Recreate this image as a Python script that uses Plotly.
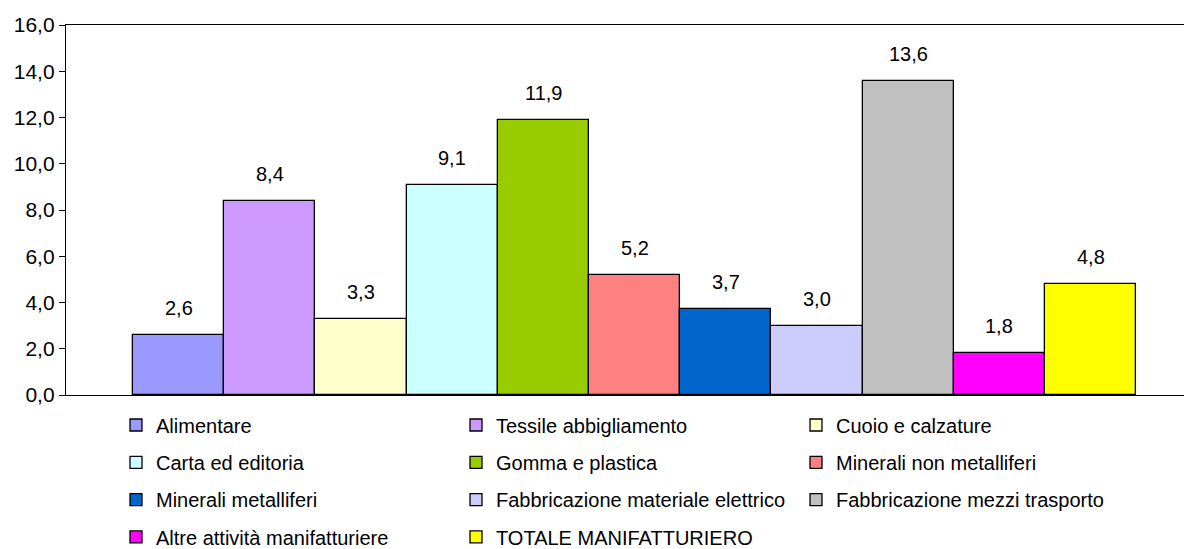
import plotly.graph_objects as go

categories = ["Alimentare", "Tessile abbigliamento", "Cuoio e calzature",
              "Carta ed editoria", "Gomma e plastica", "Minerali non metalliferi",
              "Minerali metalliferi", "Fabbricazione materiale elettrico",
              "Fabbricazione mezzi trasporto", "Altre attività manifatturiere",
              "TOTALE MANIFATTURIERO"]
values = [2.6, 8.4, 3.3, 9.1, 11.9, 5.2, 3.7, 3.0, 13.6, 1.8, 4.8]
colors = ["#9999FF", "#CC99FF", "#FFFFCC", "#CCFFFF", "#99CC00", "#FF8080",
          "#0066CC", "#CCCCFF", "#C0C0C0", "#FF00FF", "#FFFF00"]
tick_vals = [0, 2, 4, 6, 8, 10, 12, 14, 16]

FONT = "Liberation Sans, Arial, sans-serif"
OFF = 8  # default page body margin
W, H = 1192 - OFF, 549 - OFF
L, R, T, B = 66 - OFF, 0, 25 - OFF, 549 - 395
plot_h = H - T - B

fig = go.Figure()
legend_names = ["legend", "legend2", "legend3", "legend4"]
for i, (c, v, col) in enumerate(zip(categories, values, colors)):
    fig.add_trace(go.Bar(
        x=[i], y=[v], width=1, name=c,
        marker=dict(color=col, line=dict(color="black", width=1.3)),
        legend=legend_names[i // 3], hoverinfo="skip",
    ))
    fig.add_annotation(x=i, y=v, text=f"{v:.1f}".replace(".", ","),
                       showarrow=False, yanchor="bottom", yshift=14,
                       font=dict(family=FONT, size=20, color="black"))

leg_common = dict(orientation="h", xanchor="left", yanchor="middle",
                  xref="container", yref="container",
                  x=108 / W, entrywidth=295, entrywidthmode="pixels",
                  font=dict(family=FONT, size=20, color="black"),
                  bgcolor="rgba(0,0,0,0)", traceorder="normal")
layout_legends = {}
for r, ln in enumerate(legend_names):
    yc = 425 + 37.3 * r - OFF
    layout_legends[ln] = dict(leg_common, y=1 - yc / H)

fig.update_layout(
    width=W, height=H, margin=dict(l=L, r=R, t=T, b=B, autoexpand=False),
    paper_bgcolor="white", plot_bgcolor="white",
    barmode="overlay", bargap=0, separators=",.",
    showlegend=True,
    xaxis=dict(range=[-1.235, 11.111], showticklabels=False, ticks="",
               showgrid=False, zeroline=False, showline=True, linecolor="black",
               linewidth=1.3, mirror=True, automargin=False),
    yaxis=dict(range=[0, 16], tickvals=tick_vals, tickformat=".1f",
               showgrid=False, zeroline=False, showline=True, linecolor="black",
               linewidth=1.3, ticks="outside", ticklen=6, tickcolor="black",
               automargin=False,
               tickfont=dict(family=FONT, size=21, color="black")),
    font=dict(family=FONT, color="black"),
    **layout_legends,
)

fig.write_html("out.html")
